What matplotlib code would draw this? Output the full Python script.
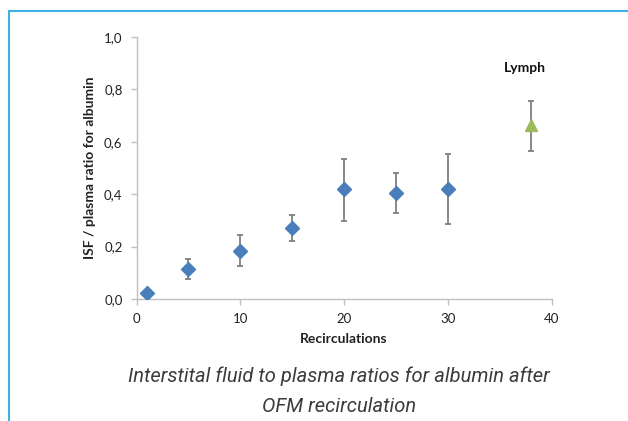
import matplotlib
matplotlib.use('Agg')
import matplotlib.pyplot as plt
from matplotlib.patches import Rectangle
from matplotlib.ticker import FuncFormatter

# recirculation data (ISF / plasma ratio for albumin)
recirc = [1, 5, 10, 15, 20, 25, 30]
ratio = [0.024, 0.114, 0.184, 0.271, 0.419, 0.405, 0.421]
err_lo = [0.0, 0.039, 0.057, 0.048, 0.121, 0.077, 0.134]
err_hi = [0.0, 0.037, 0.061, 0.048, 0.117, 0.077, 0.134]

# lymph reference
lymph_x = [38]
lymph_y = [0.665]
lymph_lo = [0.102]
lymph_hi = [0.091]

xticks = [0, 10, 20, 30, 40]
yticks = [0.0, 0.2, 0.4, 0.6, 0.8, 1.0]

plt.rcParams['font.family'] = ['Lato', 'DejaVu Sans']

fig = plt.figure(figsize=(6.28, 4.21), dpi=100)
ax = fig.add_axes([136.5 / 628, 1 - 299 / 421, 415 / 628, 262 / 421])

ax.errorbar(recirc, ratio, yerr=[err_lo, err_hi], fmt='D', color='#4a7ebb',
            ms=7, ecolor='#7f7f7f', elinewidth=1.3, capsize=2.5, capthick=1.3,
            zorder=3)
ax.errorbar(lymph_x, lymph_y, yerr=[lymph_lo, lymph_hi], fmt='^', color='#9bbb59',
            ms=8, ecolor='#7f7f7f', elinewidth=1.3, capsize=2.5, capthick=1.3,
            zorder=3)

ax.set_xlim(0, 40)
ax.set_ylim(0, 1.0)
ax.set_xticks(xticks)
ax.set_yticks(yticks)
ax.yaxis.set_major_formatter(FuncFormatter(lambda v, p: ('%.1f' % v).replace('.', ',')))

for s in ['top', 'right']:
    ax.spines[s].set_visible(False)
for s in ['left', 'bottom']:
    ax.spines[s].set_color('#c0c0c0')
    ax.spines[s].set_linewidth(1.0)
ax.tick_params(direction='out', length=4, width=1.0, color='#c0c0c0',
               labelsize=9.5, labelcolor='#222222', pad=6)

ax.set_xlabel('Recirculations', fontsize=10, fontweight='bold', color='#222222', labelpad=6)
ax.set_ylabel('ISF / plasma ratio for albumin', fontsize=10, fontweight='bold',
              color='#222222', labelpad=6)

ax.text(37.45, 0.88, 'Lymph', fontsize=10, fontweight='bold', color='#111111',
        ha='center', va='center')

# caption
cap_font = dict(fontsize=14.5, style='italic', fontweight='normal', color='#3c3c3c',
                ha='center', va='center', family=['Roboto', 'DejaVu Sans'])
fig.text(339 / 628, 1 - 376 / 421, 'Interstital fluid to plasma ratios for albumin after',
         **cap_font)
fig.text(339 / 628, 1 - 406 / 421, 'OFM recirculation', **cap_font)

# blue frame
fig.patches.append(Rectangle((9 / 628, -0.1), 1.2, 1 - 11 / 421 + 0.1, transform=fig.transFigure,
                             fill=False, edgecolor='#3db1e6', linewidth=1.5))

fig.savefig('out.png', dpi=100)
